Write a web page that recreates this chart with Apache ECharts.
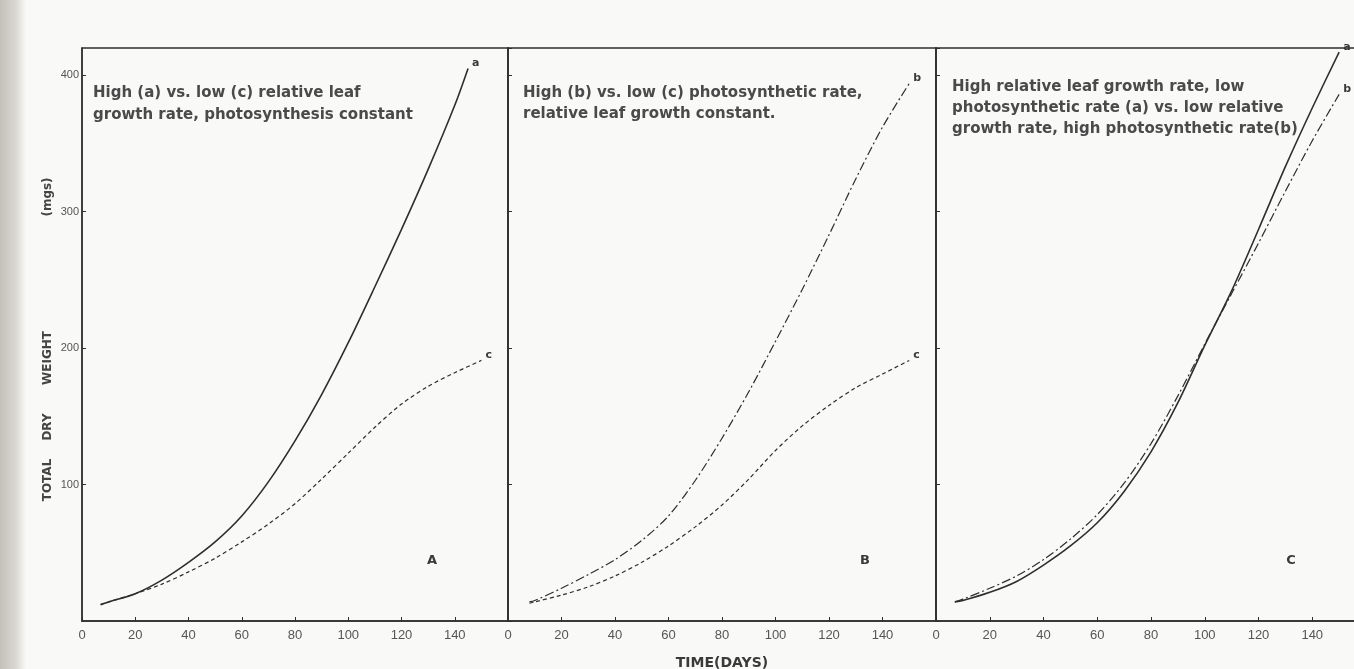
<!DOCTYPE html>
<html>
<head>
<meta charset="utf-8">
<script src="https://cdn.jsdelivr.net/npm/echarts@6/dist/echarts.min.js"></script>
<style>
html,body{margin:0;padding:0;background:#f9f9f7;}
#chart{width:1354px;height:669px;}
</style>
</head>
<body>
<div id="chart"></div>
<script>
// ---- data (x = days, y = total dry weight in mgs) ----
const xTickValues = [0, 20, 40, 60, 80, 100, 120, 140];
const yTickValues = [100, 200, 300, 400];

// Panel A: high (a) vs low (c) relative leaf growth rate
const panelA_a = [[7,12],[10,14],[20,20],[30,30],[40,43],[50,58],[60,77],[70,102],[80,132],[90,166],[100,204],[110,245],[120,287],[130,331],[140,378],[145,405]];
const panelA_c = [[7,12],[10,14],[20,20],[30,27],[40,36],[50,46],[60,58],[70,71],[80,86],[90,104],[100,123],[110,142],[120,159],[130,172],[140,182],[150,191]];

// Panel B: high (b) vs low (c) photosynthetic rate
const panelB_b = [[8,14],[10,15],[20,24],[30,34],[40,45],[50,59],[60,77],[70,103],[80,134],[90,168],[100,205],[110,243],[120,283],[130,324],[140,362],[150,394]];
const panelB_c = [[8,13],[10,14],[20,19],[30,25],[40,33],[50,43],[60,55],[70,69],[80,85],[90,104],[100,125],[110,143],[120,158],[130,171],[140,181],[150,191]];

// Panel C: (a) high leaf growth / low photosynthesis vs (b) low leaf growth / high photosynthesis
const panelC_a = [[7,14],[10,15],[20,21],[30,29],[40,41],[50,55],[60,72],[70,95],[80,124],[90,160],[100,202],[110,242],[120,287],[130,333],[140,376],[150,417]];
const panelC_b = [[7,14],[10,16],[20,24],[30,33],[40,45],[50,60],[60,78],[70,101],[80,130],[90,165],[100,203],[110,240],[120,277],[130,315],[140,352],[150,386]];

const panelNotes = [
  ["High (a) vs. low (c) relative leaf", "growth rate, photosynthesis constant"],
  ["High (b) vs. low (c) photosynthetic rate,", "relative leaf growth constant."],
  ["High relative leaf growth rate, low", "photosynthetic rate (a) vs. low relative", "growth rate, high photosynthetic rate(b)"]
];
const panelLetters = ["A", "B", "C"];
const yTitleWords = ["TOTAL", "DRY", "WEIGHT", "(mgs)"];
const xTitle = "TIME(DAYS)";

// ---- layout ----
const INK = '#2e2e2e';
const TEXT = '#4a4a4a';
const grids = [
  {left: 82, top: 48, width: 426, height: 573},
  {left: 508, top: 48, width: 428, height: 573},
  {left: 936, top: 48, width: 430, height: 573}
];

function xAxisFor(i) {
  return {
    type: 'value', gridIndex: i, min: 0, max: 160, interval: 20,
    axisLine: {show: true, lineStyle: {color: INK, width: 1.5}},
    axisTick: {show: true, inside: true, length: 4, lineStyle: {color: INK}},
    axisLabel: {show: true, color: '#555', fontSize: 13, fontFamily: 'Liberation Sans', margin: 8, showMaxLabel: false,
      formatter: v => xTickValues.includes(v) ? String(v) : ''},
    splitLine: {show: false},
    name: i === 1 ? xTitle : '', nameLocation: 'middle', nameGap: 35,
    nameTextStyle: {color: '#3a3a3a', fontSize: 14, fontWeight: 'bold', fontFamily: 'DejaVu Sans'}
  };
}
function yAxisFor(i) {
  return {
    type: 'value', gridIndex: i, min: 0, max: 420, interval: 100,
    axisLine: {show: true, onZero: false, lineStyle: {color: INK, width: 1.5}},
    axisTick: {show: true, inside: true, length: 4, lineStyle: {color: INK}},
    axisLabel: {show: i === 0, color: '#555', fontSize: 11, fontFamily: 'Liberation Sans', margin: 3,
      showMinLabel: false, showMaxLabel: false,
      formatter: v => yTickValues.includes(v) ? String(v) : ''},
    splitLine: {show: false}
  };
}

const solid = {color: INK, width: 1.6, type: 'solid'};
const dashed = {color: INK, width: 1.2, type: [4, 3]};
const dashDot = {color: INK, width: 1.2, type: [9, 3, 2, 3]};

function line(i, data, style, tag) {
  return {
    type: 'line', xAxisIndex: i, yAxisIndex: i, data: data, showSymbol: false, symbol: 'none',
    smooth: 0.3, lineStyle: style, silent: true,
    endLabel: {show: true, formatter: tag, color: '#3a3a3a', fontSize: 11, fontWeight: 'bold',
      fontFamily: 'DejaVu Sans', distance: 4, offset: [0, -5]}
  };
}

const graphics = [
  {type: 'rect', left: 0, top: 0, shape: {width: 26, height: 669}, silent: true, z: -10,
    style: {fill: new echarts.graphic.LinearGradient(0, 0, 1, 0, [
      {offset: 0, color: '#c4c1ba'}, {offset: 0.6, color: '#d9d7d1'}, {offset: 1, color: '#f9f9f7'}])}}
];
const noteX = [93, 523, 952];
const noteY = [[93, 115], [93, 114], [87, 108, 129]];
panelNotes.forEach((lines, i) => {
  lines.forEach((t, j) => {
    graphics.push({type: 'text', x: noteX[i], y: noteY[i][j], silent: true,
      style: {text: t, fill: TEXT, font: 'bold 15px "DejaVu Sans"', verticalAlign: 'middle'}});
  });
});
const letterX = [432, 865, 1291];
panelLetters.forEach((t, i) => {
  graphics.push({type: 'text', x: letterX[i], y: 561, silent: true,
    style: {text: t, fill: '#3a3a3a', font: 'bold 13px "DejaVu Sans"', align: 'center', verticalAlign: 'middle'}});
});
const yTitleCenters = [480, 427, 358, 197];
yTitleWords.forEach((w, i) => {
  graphics.push({type: 'text', x: 48, y: yTitleCenters[i], rotation: Math.PI / 2, silent: true,
    style: {text: w, fill: '#444', font: 'bold 12px "DejaVu Sans"', align: 'center', verticalAlign: 'middle'}});
});

const chart = echarts.init(document.getElementById('chart'), null, {renderer: 'canvas'});
chart.setOption({
  animation: false,
  backgroundColor: '#f9f9f7',
  grid: grids.map(g => Object.assign({show: true, borderColor: INK, borderWidth: 1.3, backgroundColor: 'transparent',
    containLabel: false, outerBoundsMode: 'none'}, g)),
  xAxis: [0, 1, 2].map(xAxisFor),
  yAxis: [0, 1, 2].map(yAxisFor),
  series: [
    line(0, panelA_a, solid, 'a'),
    line(0, panelA_c, dashed, 'c'),
    line(1, panelB_b, dashDot, 'b'),
    line(1, panelB_c, dashed, 'c'),
    line(2, panelC_a, solid, 'a'),
    line(2, panelC_b, dashDot, 'b')
  ],
  graphic: graphics
});
</script>
</body>
</html>
